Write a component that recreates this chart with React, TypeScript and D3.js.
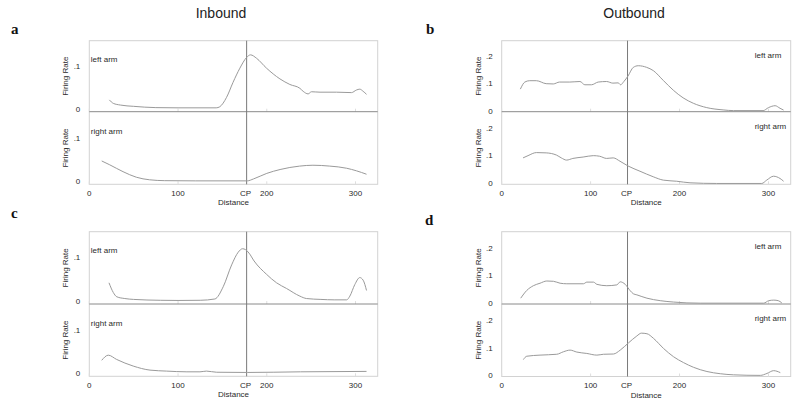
import React from "react";
import * as d3 from "d3";

type Pt = [number, number];

// ---------- data (distance, firing rate) ----------
const inboundALeft: Pt[] = [[22.6,0.021],[27,0.013],[35,0.009],[50,0.006],[75,0.003],[100,0.0025],[143,0.0025],[147,0.005],[154.7,0.027],[162,0.062],[169.7,0.095],[177.3,0.12],[181.7,0.126],[188.5,0.118],[199.7,0.095],[214.8,0.07],[226,0.057],[237.3,0.048],[241,0.041],[246.6,0.035],[250.4,0.04],[260,0.039],[278.6,0.039],[295.5,0.038],[301,0.044],[304.8,0.046],[308.6,0.041],[312.4,0.034]];
const inboundARight: Pt[] = [[14,0.047],[23,0.038],[38,0.022],[53,0.009],[68,0.003],[85,0.001],[120,0.0005],[178,0.0005],[185,0.005],[200,0.018],[215,0.027],[237,0.035],[252,0.037],[271,0.035],[290,0.03],[301,0.024],[312.4,0.016]];
const outboundBLeft: Pt[] = [[21,0.08],[26,0.106],[31.5,0.111],[39,0.111],[50,0.1],[58,0.099],[65,0.106],[76.6,0.106],[88,0.108],[93.5,0.096],[101,0.096],[108.5,0.106],[118,0.108],[125,0.102],[131,0.103],[133.7,0.096],[137.4,0.108],[142,0.128],[148,0.16],[153.6,0.166],[163,0.16],[170.5,0.148],[181.7,0.112],[193,0.076],[204,0.048],[215.5,0.028],[230.6,0.012],[249,0.0036],[260.6,0.001],[294,0.001],[300,0.012],[307.5,0.019],[313,0.0096],[317,0.003]];
const outboundBRight: Pt[] = [[24,0.092],[29.6,0.1],[39,0.111],[50,0.11],[61.6,0.102],[67,0.092],[73,0.084],[80,0.09],[91.6,0.095],[103,0.1],[110,0.098],[118,0.09],[125.4,0.092],[133,0.08],[142,0.063],[155.5,0.044],[170.5,0.024],[181.7,0.012],[196.8,0.008],[211.8,0.0024],[241.8,0],[292.5,0],[298,0.012],[305.7,0.026],[313,0.018],[317,0.008]];
const inboundCLeft: Pt[] = [[22.2,0.042],[27,0.02],[31,0.01],[40,0.006],[50,0.004],[80,0.002],[100,0.0016],[125,0.002],[141.5,0.005],[150.9,0.033],[160.4,0.083],[167.8,0.112],[172.7,0.12],[176,0.118],[180,0.11],[185.7,0.092],[199.7,0.0615],[211,0.042],[222.3,0.029],[237.3,0.0115],[244.8,0.006],[261,0.004],[276,0.003],[290,0.003],[293.6,0.0115],[299.2,0.038],[304.8,0.054],[308.6,0.048],[312.4,0.0245]];
const inboundCRight: Pt[] = [[14,0.03],[21.4,0.042],[30.8,0.032],[49.5,0.0165],[68.4,0.007],[87.2,0.0047],[110,0.003],[124.7,0.003],[132,0.0047],[143.5,0.002],[178,0.0015],[238,0.003],[312.4,0.004]];
const outboundDLeft: Pt[] = [[21.4,0.018],[28.2,0.046],[35.6,0.063],[43.1,0.072],[50.7,0.08],[58.2,0.079],[65.7,0.072],[73.2,0.07],[91.9,0.07],[95.7,0.076],[103.2,0.076],[107,0.068],[118.2,0.063],[129.5,0.066],[133.3,0.077],[138.9,0.068],[144.5,0.045],[148,0.034],[152,0.03],[163.3,0.018],[178.3,0.009],[193.3,0.004],[208.3,0.001],[223.3,0],[294.6,0],[300.3,0.009],[306,0.011],[311,0.009],[315,0.001]];
const outboundDRight: Pt[] = [[24.4,0.058],[28.2,0.07],[43.1,0.074],[61.9,0.077],[69.4,0.086],[76.9,0.092],[84.4,0.085],[95.7,0.08],[107,0.074],[114.4,0.077],[125.7,0.078],[133.3,0.092],[142.6,0.118],[152,0.143],[157,0.153],[163.3,0.151],[170.8,0.134],[182,0.098],[193.3,0.068],[204.5,0.047],[215.8,0.03],[230.8,0.015],[245.8,0.007],[260.8,0.003],[290.8,0.001],[298.3,0.008],[305.8,0.018],[313.3,0.011]];

const xTicks = [0, 100, 200, 300];
const cpInbound = 177.3;
const cpOutbound = 141.5;
const yTicksInbound = [0, 0.1];
const yTicksOutbound = [0, 0.1, 0.2];
const yTickLabel = (v: number) => (v === 0 ? "0" : "." + Math.round(v * 10));
const titles = ["Inbound", "Outbound"];
const armLabels = ["left arm", "right arm"];

const FONT = "'Liberation Sans', Arial, sans-serif";

interface PanelProps {
  letter: string;
  letterX: number;
  letterY: number;
  left: number;
  right: number;
  top: number;
  mid: number;
  bottom: number;
  cp: number;
  leftData: Pt[];
  rightData: Pt[];
  yTicks: number[];
  topDomain: [number, number];
  botDomain: [number, number];
  inbound: boolean;
}

function Panel(p: PanelProps) {
  const x = d3.scaleLinear().domain([0, 325]).range([p.left, p.right]);
  const yTop = d3.scaleLinear().domain(p.topDomain).range([p.mid, p.top]);
  const yBot = d3.scaleLinear().domain(p.botDomain).range([p.bottom, p.mid]);
  const lineTop = d3.line<Pt>().x(d => x(d[0])).y(d => yTop(d[1])).curve(d3.curveMonotoneX);
  const lineBot = d3.line<Pt>().x(d => x(d[0])).y(d => yBot(d[1])).curve(d3.curveMonotoneX);
  const tickColor = "#2a2a2a";
  const armX = p.inbound ? p.left + 1.5 : p.left + 253;
  const armTopY = p.inbound ? p.top + 21.5 : p.top + 17;
  const armBotY = p.inbound ? p.mid + 22 : p.mid + 17;
  const cx = (p.left + p.right) / 2;
  return (
    <g>
      <text x={p.letterX} y={p.letterY} fontFamily="'Liberation Serif', 'Times New Roman', serif" fontWeight="bold" fontSize={15} fill="#111">{p.letter}</text>
      <rect x={p.left} y={p.top} width={p.right - p.left} height={p.bottom - p.top} fill="none" stroke="#d2d2d2" strokeWidth={1} />
      {xTicks.map(t => (
        <g key={"tk" + t}>
          <line x1={x(t)} x2={x(t)} y1={p.mid} y2={p.mid - 3} stroke="#dedede" />
          <line x1={x(t)} x2={x(t)} y1={p.bottom} y2={p.bottom - 3} stroke="#dedede" />
        </g>
      ))}
      <line x1={p.left} x2={p.right} y1={p.mid} y2={p.mid} stroke="#8a8a8a" strokeWidth={1} />
      <line x1={x(p.cp)} x2={x(p.cp)} y1={p.top} y2={p.bottom} stroke="#7a7a7a" strokeWidth={1} />
      <path d={lineTop(p.leftData) || ""} fill="none" stroke="#9a9a9a" strokeWidth={1} />
      <path d={lineBot(p.rightData) || ""} fill="none" stroke="#9a9a9a" strokeWidth={1} />
      {p.yTicks.map(t => (
        <text key={"yt" + t} x={p.left - 9} y={yTop(t)} dy="0.35em" textAnchor="end" fontFamily={FONT} fontSize={8} fill={tickColor}>{yTickLabel(t)}</text>
      ))}
      {p.yTicks.map(t => (
        <text key={"yb" + t} x={p.left - 9} y={yBot(t)} dy="0.35em" textAnchor="end" fontFamily={FONT} fontSize={8} fill={tickColor}>{yTickLabel(t)}</text>
      ))}
      <text transform={`translate(${p.left - 21},${(p.top + p.mid) / 2}) rotate(-90)`} textAnchor="middle" fontFamily={FONT} fontSize={8} fill={tickColor}>Firing Rate</text>
      <text transform={`translate(${p.left - 21},${(p.mid + p.bottom) / 2}) rotate(-90)`} textAnchor="middle" fontFamily={FONT} fontSize={8} fill={tickColor}>Firing Rate</text>
      <text x={armX} y={armTopY} fontFamily={FONT} fontSize={8} fill={tickColor}>{armLabels[0]}</text>
      <text x={armX} y={armBotY} fontFamily={FONT} fontSize={8} fill={tickColor}>{armLabels[1]}</text>
      {xTicks.map(t => (
        <text key={"xt" + t} x={x(t)} y={p.bottom + 11.5} textAnchor="middle" fontFamily={FONT} fontSize={8} fill={tickColor}>{t}</text>
      ))}
      <text x={x(p.cp) - 1} y={p.bottom + 11.5} textAnchor="middle" fontFamily={FONT} fontSize={8} fill={tickColor}>CP</text>
      <text x={cx} y={p.bottom + 21} textAnchor="middle" fontFamily={FONT} fontSize={8} fill={tickColor}>Distance</text>
    </g>
  );
}

export default function App() {
  const inTop: [number, number] = [-0.0065, 0.159];
  const inBot: [number, number] = [-0.0075, 0.162];
  const outDom: [number, number] = [-0.003, 0.258];
  return (
    <svg width={800} height={407} style={{ position: "absolute", left: 0, top: 0, background: "#fff" }}>
      <rect x={0} y={0} width={800} height={407} fill="#fff" />
      <text x={221} y={17.5} textAnchor="middle" fontFamily={FONT} fontSize={14} fill="#222">{titles[0]}</text>
      <text x={634} y={17.5} textAnchor="middle" fontFamily={FONT} fontSize={14} fill="#222">{titles[1]}</text>
      <Panel letter="a" letterX={11} letterY={34} left={89.3} right={377.7} top={40.7} mid={111.7} bottom={184.3} cp={cpInbound}
        leftData={inboundALeft} rightData={inboundARight} yTicks={yTicksInbound} topDomain={inTop} botDomain={inBot} inbound={true} />
      <Panel letter="b" letterX={426} letterY={34} left={501.7} right={790.7} top={40.7} mid={111.7} bottom={184.3} cp={cpOutbound}
        leftData={outboundBLeft} rightData={outboundBRight} yTicks={yTicksOutbound} topDomain={outDom} botDomain={outDom} inbound={false} />
      <Panel letter="c" letterX={11} letterY={218} left={89.3} right={377.7} top={231.7} mid={304} bottom={376.3} cp={cpInbound}
        leftData={inboundCLeft} rightData={inboundCRight} yTicks={yTicksInbound} topDomain={inTop} botDomain={inBot} inbound={true} />
      <Panel letter="d" letterX={425} letterY={225} left={501.7} right={790.7} top={231.7} mid={304} bottom={376.5} cp={cpOutbound}
        leftData={outboundDLeft} rightData={outboundDRight} yTicks={yTicksOutbound} topDomain={outDom} botDomain={outDom} inbound={false} />
    </svg>
  );
}
